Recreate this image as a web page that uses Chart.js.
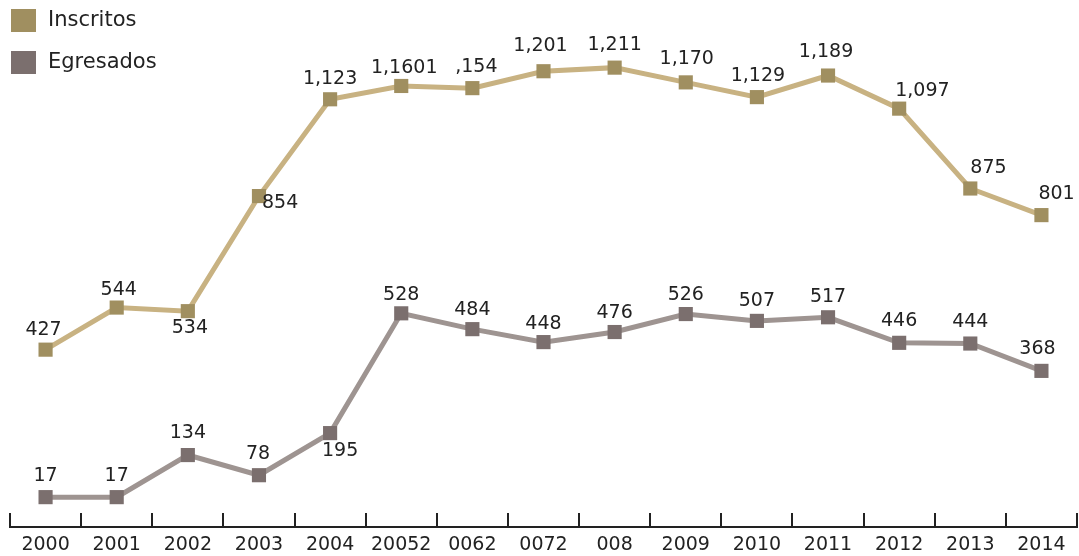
<!DOCTYPE html>
<html>
<head>
<meta charset="utf-8">
<script src="https://cdn.jsdelivr.net/npm/chart.js@4/dist/chart.umd.min.js"></script>
<style>
  html, body { margin: 0; padding: 0; background: #fff; overflow: hidden; }
  canvas { display: block; }
</style>
</head>
<body>
<canvas id="chart" width="1079" height="556"></canvas>
<script>
const years = ['2000', '2001', '2002', '2003', '2004', '2005', '2006', '2007', '2008', '2009', '2010', '2011', '2012', '2013', '2014'];
// tick text as printed in the source picture
const yearLabels = ['2000', '2001', '2002', '2003', '2004', '20052', '0062', '0072', '008', '2009', '2010', '2011', '2012', '2013', '2014'];
const inscritos = [427, 544, 534, 854, 1123, 1160, 1154, 1201, 1211, 1170, 1129, 1189, 1097, 875, 801];
const egresados = [17, 17, 134, 78, 195, 528, 484, 448, 476, 526, 507, 517, 446, 444, 368];
const inscritosText = ['427', '544', '534', '854', '1,123', '1,1601', ',154', '1,201', '1,211', '1,170', '1,129', '1,189', '1,097', '875', '801'];
const egresadosText = ['17', '17', '134', '78', '195', '528', '484', '448', '476', '526', '507', '517', '446', '444', '368'];

// label placement per point: [align, dx, dy]
const inscritosPlace = [
  ['center', -2, -20], ['center', 2, -18], ['center', 2, 17], ['left', 3, 7], ['center', 0, -20],
  ['center', 3, -18], ['center', 4, -21], ['center', -3, -25], ['center', 0, -23], ['center', 1, -23],
  ['center', 1, -21], ['center', -2, -23], ['left', -4, -18], ['left', 0, -20], ['left', -3, -21]
];
const egresadosPlace = [
  ['center', 0, -21], ['center', 0, -21], ['center', 0, -22], ['center', -1, -21], ['center', 10, 18],
  ['center', 0, -18], ['center', 0, -19], ['center', 0, -18], ['center', 0, -19], ['center', 0, -19],
  ['center', 0, -20], ['center', 0, -20], ['center', 0, -22], ['center', 0, -21], ['center', -4, -22]
];

const FONT = '"DejaVu Sans", sans-serif';

const valueLabels = {
  id: 'valueLabels',
  afterDatasetsDraw(chart) {
    const ctx = chart.ctx;
    ctx.save();
    ctx.font = '19px ' + FONT;
    ctx.fillStyle = '#222';
    ctx.textBaseline = 'middle';
    chart.data.datasets.forEach((ds, i) => {
      const meta = chart.getDatasetMeta(i);
      meta.data.forEach((pt, j) => {
        const p = ds.place[j];
        ctx.textAlign = p[0];
        ctx.fillText(ds.texts[j], pt.x + p[1], pt.y + p[2]);
      });
    });
    ctx.restore();
  }
};

// ticks between categories, pointing up from the axis line
const upTicks = {
  id: 'upTicks',
  afterDraw(chart) {
    const x = chart.scales.x;
    const ctx = chart.ctx;
    const step = x.getPixelForValue(1) - x.getPixelForValue(0);
    ctx.save();
    ctx.strokeStyle = '#222';
    ctx.lineWidth = 2;
    for (let i = 0; i <= years.length; i++) {
      const px = Math.round(x.getPixelForValue(0) - step / 2 + i * step);
      ctx.beginPath();
      ctx.moveTo(px, x.top);
      ctx.lineTo(px, x.top - 14);
      ctx.stroke();
    }
    ctx.restore();
  }
};

const boxLegend = {
  id: 'boxLegend',
  afterDraw(chart) {
    const ctx = chart.ctx;
    ctx.save();
    ctx.font = '21px ' + FONT;
    ctx.textBaseline = 'middle';
    ctx.textAlign = 'left';
    chart.data.datasets.forEach((ds, i) => {
      const y = 9 + i * 42;
      ctx.fillStyle = ds.pointBackgroundColor;
      ctx.fillRect(11, y, 25, 23);
      ctx.fillStyle = '#222';
      ctx.fillText(ds.label, 48, y + 12);
    });
    ctx.restore();
  }
};

new Chart(document.getElementById('chart'), {
  type: 'line',
  data: {
    labels: years,
    datasets: [{
      label: 'Inscritos',
      data: inscritos,
      texts: inscritosText,
      place: inscritosPlace,
      borderColor: '#c8b282',
      borderWidth: 5,
      pointBackgroundColor: '#a08f60',
      pointBorderWidth: 0,
      pointStyle: 'rect',
      pointRadius: 10,
      tension: 0
    }, {
      label: 'Egresados',
      data: egresados,
      texts: egresadosText,
      place: egresadosPlace,
      borderColor: '#9e9491',
      borderWidth: 5,
      pointBackgroundColor: '#7b6f6e',
      pointBorderWidth: 0,
      pointStyle: 'rect',
      pointRadius: 10,
      tension: 0
    }]
  },
  options: {
    responsive: false,
    animation: false,
    layout: { autoPadding: false, padding: { left: 10, right: 2, top: 0, bottom: 0 } },
    plugins: { legend: { display: false }, tooltip: { enabled: false } },
    scales: {
      x: {
        offset: true,
        afterFit(scale) {
          scale.paddingLeft = 0;
          scale.paddingRight = 0;
          scale.height = 29;
        },
        grid: { display: false, drawTicks: false, tickLength: 0 },
        border: { display: true, color: '#222', width: 2 },
        ticks: {
          color: '#222',
          font: { family: FONT, size: 19, lineHeight: 1.0 },
          padding: 9,
          maxRotation: 0,
          autoSkip: false,
          callback: (v, i) => yearLabels[i]
        }
      },
      y: {
        display: false,
        min: -66,
        max: 1399
      }
    }
  },
  plugins: [valueLabels, upTicks, boxLegend]
});
</script>
</body>
</html>
